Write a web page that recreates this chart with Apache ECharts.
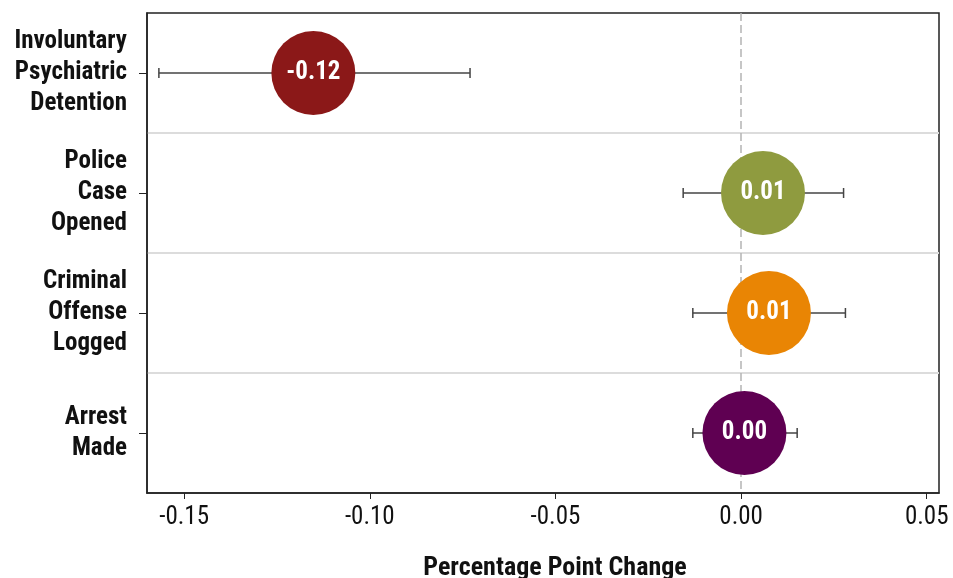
<!DOCTYPE html>
<html>
<head>
<meta charset="utf-8">
<script src="https://cdn.jsdelivr.net/npm/echarts@6/dist/echarts.min.js"></script>
<style>
  html, body { margin: 0; padding: 0; background: #fff; }
  #chart { width: 953px; height: 578px; }
</style>
</head>
<body>
<div id="chart"></div>
<script>
// outcome categories, top to bottom
const categories = [
  "Involuntary\nPsychiatric\nDetention",
  "Police\nCase\nOpened",
  "Criminal\nOffense\nLogged",
  "Arrest\nMade"
];
// point estimates and confidence interval bounds (percentage point change)
const estimates = [-0.1152, 0.0059, 0.0075, 0.0009];
const ciLow = [-0.1568, -0.0156, -0.0130, -0.0130];
const ciHigh = [-0.0730, 0.0276, 0.0281, 0.0151];
const xTicks = [-0.15, -0.10, -0.05, 0.00, 0.05];
const colors = ["#8b1818", "#8f9b3f", "#e98504", "#5f0052"];

const FONT = "'Roboto Condensed', Roboto, sans-serif";

const chart = echarts.init(document.getElementById("chart"));

const option = {
  animation: false,
  backgroundColor: "#fff",
  grid: {
    left: 147, right: 14, top: 13, bottom: 85,
    outerBoundsMode: "none",
    show: true, borderColor: "#222", borderWidth: 1.5
  },
  xAxis: {
    type: "value",
    min: -0.16, max: 0.0533,
    name: "Percentage Point Change",
    nameLocation: "middle",
    nameGap: 62,
    nameTextStyle: { fontFamily: FONT, fontWeight: "bold", fontSize: 26, color: "#111", padding: [0, 0, 0, 24] },
    axisLine: { show: true, onZero: false, lineStyle: { color: "#222", width: 1.5 } },
    axisTick: { show: true, length: 6, customValues: xTicks, lineStyle: { color: "#222" } },
    axisLabel: {
      fontFamily: FONT, fontSize: 25, color: "#111", margin: 12,
      customValues: xTicks,
      formatter: v => v.toFixed(2)
    },
    splitLine: { show: false }
  },
  yAxis: {
    type: "category",
    data: categories,
    inverse: true,
    axisLine: { show: true, onZero: false, lineStyle: { color: "#222", width: 1.5 } },
    axisTick: { show: true, alignWithLabel: true, length: 8, lineStyle: { color: "#222" } },
    axisLabel: {
      fontFamily: FONT, fontWeight: "bold", fontSize: 25, color: "#111",
      lineHeight: 31, margin: 20, align: "right"
    },
    splitLine: { show: true, showMinLine: false, showMaxLine: false, lineStyle: { color: "#dcdcdc", width: 2 } }
  },
  series: [
    {
      type: "custom",
      name: "ci",
      z: 2,
      data: categories.map((c, i) => [ciLow[i], ciHigh[i], i]),
      encode: { x: [0, 1], y: 2 },
      renderItem: (params, api) => {
        const a = api.coord([api.value(0), api.value(2)]);
        const b = api.coord([api.value(1), api.value(2)]);
        const style = { stroke: "#444", lineWidth: 1.5 };
        return {
          type: "group",
          children: [
            { type: "line", shape: { x1: a[0], y1: a[1], x2: b[0], y2: b[1] }, style },
            { type: "line", shape: { x1: a[0], y1: a[1] - 5, x2: a[0], y2: a[1] + 5 }, style },
            { type: "line", shape: { x1: b[0], y1: b[1] - 5, x2: b[0], y2: b[1] + 5 }, style }
          ]
        };
      }
    },
    {
      type: "scatter",
      name: "estimate",
      z: 3,
      symbolSize: 84,
      data: estimates.map((v, i) => ({ value: [v, i], itemStyle: { color: colors[i], opacity: 1 } })),
      label: {
        show: true, position: "inside",
        fontFamily: FONT, fontWeight: "bold", fontSize: 25, color: "#fff",
        formatter: p => p.value[0].toFixed(2)
      },
      markLine: {
        silent: true, symbol: "none", z: 1,
        label: { show: false },
        lineStyle: { color: "#b4b4b4", type: [8, 4], width: 1.5 },
        data: [{ xAxis: 0 }]
      }
    }
  ]
};

chart.setOption(option);
</script>
</body>
</html>
